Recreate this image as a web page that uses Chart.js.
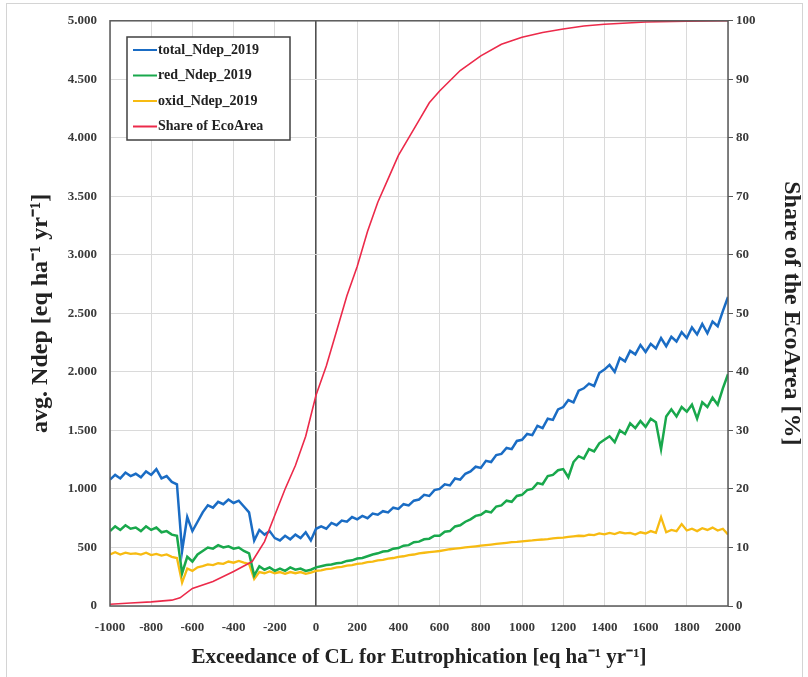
<!DOCTYPE html>
<html>
<head>
<meta charset="utf-8">
<script src="https://cdn.jsdelivr.net/npm/chart.js@4/dist/chart.umd.min.js"></script>
<style>
  html, body { margin: 0; background: #fff; }
  #wrap { position: relative; width: 808px; height: 677px; }
</style>
</head>
<body>
<div id="wrap"><canvas id="c" width="808" height="677"></canvas></div>
<script>
// exceedance steps for the deposition series
const exceedance = [
  -1000, -975, -950, -925, -900, -875, -850, -825, -800, -775, -750, -725, -700, -675, -650, -625,
  -600, -575, -550, -525, -500, -475, -450, -425, -400, -375, -350, -325, -300, -275, -250, -225,
  -200, -175, -150, -125, -100, -75, -50, -25, 0, 25, 50, 75, 100, 125, 150, 175,
  200, 225, 250, 275, 300, 325, 350, 375, 400, 425, 450, 475, 500, 525, 550, 575,
  600, 625, 650, 675, 700, 725, 750, 775, 800, 825, 850, 875, 900, 925, 950, 975,
  1000, 1025, 1050, 1075, 1100, 1125, 1150, 1175, 1200, 1225, 1250, 1275, 1300, 1325, 1350, 1375,
  1400, 1425, 1450, 1475, 1500, 1525, 1550, 1575, 1600, 1625, 1650, 1675, 1700, 1725, 1750, 1775,
  1800, 1825, 1850, 1875, 1900, 1925, 1950, 1975, 2000
];

const totalNdep = [
  1080, 1120, 1090, 1140, 1110, 1130, 1100, 1150, 1120, 1170, 1090, 1110, 1060, 1040, 470, 760,
  640, 720, 800, 860, 840, 890, 870, 910, 880, 900, 850, 800, 560, 650, 610, 640,
  580, 560, 600, 570, 610, 580, 630, 560, 660, 680, 660, 710, 690, 730, 720, 760,
  740, 770, 750, 790, 780, 810, 800, 840, 830, 870, 860, 900, 910, 950, 940, 990,
  1000, 1040, 1030, 1090, 1080, 1130, 1150, 1190, 1180, 1240, 1230, 1290, 1300, 1350, 1340, 1410,
  1420, 1470, 1460, 1540, 1520, 1600, 1590, 1680, 1700, 1760, 1740, 1840, 1860, 1900, 1880, 1990,
  2020, 2060, 2000, 2120, 2090, 2180, 2150, 2230, 2170, 2240, 2200, 2290, 2220, 2300, 2260, 2340,
  2290, 2380, 2320, 2410, 2330, 2430, 2390, 2520, 2640
];

const redNdep = [
  640, 680, 650, 690, 660, 670, 640, 680, 650, 670, 630, 640, 610, 600, 280, 420,
  380, 440, 470, 500, 490, 520, 500, 510, 490, 500, 470, 450, 260, 340, 310, 330,
  300, 320, 300, 330, 310, 320, 300, 310, 330, 340, 350, 355, 365, 370, 385, 390,
  405, 410, 425, 440, 450, 465, 470, 490, 495, 515, 520, 545, 550, 570, 575, 600,
  600, 635, 640, 680, 690, 720, 740, 770, 780, 810, 800, 850, 860, 900, 890, 940,
  950, 990, 1000, 1050, 1040, 1110, 1120, 1160, 1170, 1100, 1230, 1280, 1260, 1340, 1320, 1390,
  1420, 1450, 1400, 1500, 1470, 1560, 1520, 1580, 1530, 1600, 1570, 1340, 1620, 1680, 1620, 1700,
  1660, 1720, 1600, 1740, 1700, 1780, 1720, 1860, 1980
];

const oxidNdep = [
  440, 460, 440, 455, 445, 450, 440, 455, 435, 445, 430, 440, 420, 410, 200, 320,
  300, 330, 340, 355, 350, 365, 360, 380, 370, 385, 370, 360, 230, 290, 280, 295,
  280, 290, 275, 290, 280, 290, 275, 285, 300, 305, 315, 320, 330, 335, 345, 350,
  360, 365, 375, 380, 390, 395, 405, 410, 420, 425, 435, 440, 450, 455, 460, 465,
  470, 478, 485, 490, 495, 500, 505, 510, 515, 520, 525, 530, 535, 540, 545, 548,
  552, 556, 560, 565, 568, 572, 578, 582, 585, 590, 595, 600, 598, 610, 605, 620,
  612, 625, 615, 630, 620, 625, 610, 630, 620, 640, 625, 760, 630, 650, 640, 700,
  645, 660, 640, 665, 650, 670, 645, 660, 610
];

// cumulative share of the ecosystem area (right axis)
const shareX = [
  -1000, -900, -800, -700, -660, -600, -500, -400, -310, -250, -200, -150, -100, -50, 0, 50,
  100, 150, 200, 250, 300, 350, 400, 450, 500, 550, 600, 700, 800, 900, 1000, 1100,
  1200, 1300, 1400, 1600, 1800, 2000
];
const shareEcoArea = [
  0.3, 0.5, 0.7, 1.0, 1.4, 3.0, 4.2, 5.9, 7.6, 11, 15.5, 20, 24, 29, 36, 41,
  47, 53, 58, 64, 69, 73, 77, 80, 83, 86, 88, 91.5, 94, 96, 97.2, 98,
  98.6, 99.1, 99.4, 99.8, 99.95, 100
];

const xTicks = [-1000, -800, -600, -400, -200, 0, 200, 400, 600, 800, 1000, 1200, 1400, 1600, 1800, 2000];

const serif = '"Liberation Serif", "Times New Roman", serif';
const tickFont = { family: serif, size: 13, weight: 'bold' };

function pts(xv, yv) {
  return xv.map((x, i) => ({ x, y: yv[i] }));
}

function thousands(v) {
  if (v < 1000) return String(v);
  return Math.floor(v / 1000) + '.' + String(v % 1000).padStart(3, '0');
}

const framePlugin = {
  id: 'frame',
  beforeDraw(chart) {
    const ctx = chart.ctx;
    ctx.save();
    ctx.strokeStyle = '#d4d4d4';
    ctx.lineWidth = 1;
    ctx.strokeRect(6.5, 3.5, 796, 690);
    ctx.restore();
  },
  afterDraw(chart) {
    const { ctx, chartArea: a } = chart;
    ctx.save();
    ctx.strokeStyle = '#595959';
    ctx.lineWidth = 1.5;
    ctx.strokeRect(a.left, a.top, a.right - a.left, a.bottom - a.top);

    // legend box inside the plot
    const bx = 127, by = 37, bw = 163, bh = 103;
    ctx.fillStyle = '#fff';
    ctx.fillRect(bx, by, bw, bh);
    ctx.strokeStyle = '#404040';
    ctx.lineWidth = 1.5;
    ctx.strokeRect(bx, by, bw, bh);
    ctx.font = 'bold 14px ' + serif;
    ctx.textBaseline = 'middle';
    chart.data.datasets.forEach((ds, i) => {
      const y = by + 13 + i * 25.5;
      ctx.strokeStyle = ds.borderColor;
      ctx.lineWidth = 2;
      ctx.beginPath();
      ctx.moveTo(bx + 6, y);
      ctx.lineTo(bx + 30, y);
      ctx.stroke();
      ctx.fillStyle = '#222';
      ctx.fillText(ds.label, bx + 31, y);
    });
    ctx.restore();
  }
};

new Chart(document.getElementById('c'), {
  type: 'line',
  data: {
    datasets: [
      { label: 'total_Ndep_2019', data: pts(exceedance, totalNdep), borderColor: '#1a6cc4', borderWidth: 2.5, yAxisID: 'y', order: 1 },
      { label: 'red_Ndep_2019', data: pts(exceedance, redNdep), borderColor: '#19a84c', borderWidth: 2.5, yAxisID: 'y', order: 2 },
      { label: 'oxid_Ndep_2019', data: pts(exceedance, oxidNdep), borderColor: '#f7bb12', borderWidth: 2.3, yAxisID: 'y', order: 3 },
      { label: 'Share of EcoArea', data: pts(shareX, shareEcoArea), borderColor: '#ec2a4a', borderWidth: 1.6, yAxisID: 'y2', order: 0 }
    ]
  },
  options: {
    responsive: false,
    animation: false,
    parsing: false,
    layout: { padding: { top: 19, left: 0, right: 0, bottom: 0 } },
    elements: { point: { radius: 0 }, line: { tension: 0 } },
    plugins: { legend: { display: false }, tooltip: { enabled: false } },
    scales: {
      x: {
        type: 'linear',
        min: -1000,
        max: 2000,
        afterBuildTicks: (s) => { s.ticks = xTicks.map((v) => ({ value: v })); },
        afterFit: (s) => { s.height = 71; },
        border: { display: false },
        grid: {
          drawTicks: false,
          color: (c) => (c.tick && c.tick.value === 0 ? '#505050' : '#dadada'),
          lineWidth: (c) => (c.tick && c.tick.value === 0 ? 1.6 : 1)
        },
        ticks: { font: tickFont, color: '#3a3a3a', padding: 14, maxRotation: 0, autoSkip: false, callback: (v) => String(v) },
        title: {
          display: true,
          text: 'Exceedance of CL for Eutrophication [eq ha⁻¹ yr⁻¹]',
          font: { family: serif, size: 21, weight: 'bold' },
          color: '#222',
          padding: { top: 0, bottom: 7 }
        }
      },
      y: {
        position: 'left',
        min: 0,
        max: 5000,
        afterFit: (s) => { s.width = 110; },
        border: { display: false },
        grid: { drawTicks: false, color: '#dadada' },
        ticks: { stepSize: 500, font: tickFont, color: '#3a3a3a', padding: 13, callback: (v) => thousands(v) },
        title: {
          display: true,
          text: 'avg. Ndep [eq ha⁻¹ yr⁻¹]',
          font: { family: serif, size: 24, weight: 'bold' },
          color: '#222',
          padding: { top: 26, bottom: 0 }
        }
      },
      y2: {
        position: 'right',
        min: 0,
        max: 100,
        afterFit: (s) => { s.width = 80; },
        border: { display: false },
        grid: { drawOnChartArea: false, tickLength: 5, color: '#595959' },
        ticks: { stepSize: 10, font: tickFont, color: '#3a3a3a', padding: 3 },
        title: {
          display: true,
          text: 'Share of the EcoArea [%]',
          font: { family: serif, size: 24, weight: 'bold' },
          color: '#222',
          padding: { top: 2, bottom: 0 }
        }
      }
    }
  },
  plugins: [framePlugin]
});
</script>
</body>
</html>
